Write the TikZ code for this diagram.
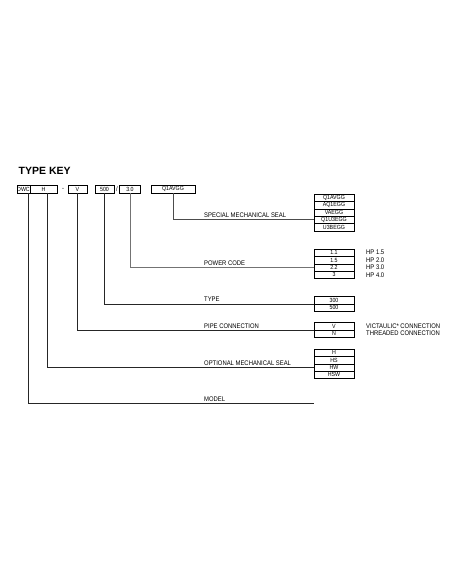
\documentclass[tikz,border=0pt]{standalone}
\usepackage{fontspec}
\setmainfont{Liberation Sans}
\newfontfamily\narrowsf[FakeStretch=0.88]{Liberation Sans}
\begin{document}
\begin{tikzpicture}[x=1pt, y=-1pt,
  key/.style={draw, line width=0.6pt, minimum height=8, inner sep=0, font=\narrowsf\fontsize{6}{6}\selectfont},
  cell/.style={draw, line width=0.6pt, minimum width=40, minimum height=7.4, inner sep=0, font=\narrowsf\fontsize{6}{6}\selectfont},
  lbl/.style={anchor=west, inner sep=0, font=\narrowsf\fontsize{6.7}{7}\selectfont},
  wire/.style={line width=0.9pt, black!85}]
  \useasboundingbox (0,0) rectangle (452,584);

  \node[anchor=west, inner sep=0, font=\bfseries\fontsize{10.5}{12}\selectfont] (title) at (18.5,171) {TYPE KEY};

  % model code boxes
  \node[key, minimum width=13] (dwc) at (23.5,189) {DWC};
  \node[key, minimum width=27] (h) at (43.5,189) {H};
  \node[lbl, anchor=center] (dash) at (63,189) {-};
  \node[key, minimum width=19] (v) at (77.5,189) {V};
  \node[key, minimum width=19] (t500) at (104.5,189) {500};
  \node[lbl, anchor=center] (slash) at (117,189) {/};
  \node[key, minimum width=20.5] (pc) at (130,189) {3.0};
  \node[key, minimum width=44] (q1) at (173,189) {Q1AVGG};

  % option tables
  \foreach \t [count=\i] in {Q1AVGG,AQ1EGG,VAEGG,Q1U3EGG,U3BEGG}
    \node[cell] (seal\i) at (334,{197.7+7.4*(\i-1)}) {\t};
  \foreach \t [count=\i] in {1.1,1.5,2.2,3}
    \node[cell] (pow\i) at (334,{252.7+7.4*(\i-1)}) {\t};
  \foreach \t [count=\i] in {HP 1.5,HP 2.0,HP 3.0,HP 4.0}
    \node[lbl] (hp\i) at (366,{252.7+7.4*(\i-1)}) {\t};
  \foreach \t [count=\i] in {300,500}
    \node[cell] (type\i) at (334,{300.2+7.4*(\i-1)}) {\t};
  \foreach \t [count=\i] in {V,N}
    \node[cell] (pipe\i) at (334,{326.2+7.4*(\i-1)}) {\t};
  \foreach \t [count=\i] in {H,HS,HW,HSW}
    \node[cell] (oseal\i) at (334,{352.7+7.4*(\i-1)}) {\t};
  \node[lbl] (vic) at (366,326.2) {VICTAULIC* CONNECTION};
  \node[lbl] (thr) at (366,333.6) {THREADED CONNECTION};

  % captions
  \node[lbl] (sealtxt) at (204,215) {SPECIAL MECHANICAL SEAL};
  \node[lbl] (powtxt) at (204,263) {POWER CODE};
  \node[lbl] (typetxt) at (204,299) {TYPE};
  \node[lbl] (pipetxt) at (204,326.5) {PIPE CONNECTION};
  \node[lbl] (osealtxt) at (204,363) {OPTIONAL MECHANICAL SEAL};
  \node[lbl] (modeltxt) at (204,399) {MODEL};
  \coordinate (modelend) at (314,403);

  % connectors
  \draw[wire] ([xshift=-2]dwc.south east) |- (modelend);
  \draw[wire] ([xshift=4]h.south) |- (oseal3.west);
  \draw[wire] (v.south) |- (pipe1.south west);
  \draw[wire] (t500.south) |- (type1.south west);
  \draw[wire, black!55] (pc.south) |- (pow3.west);
  \draw[wire, black!70] (q1.south) |- (seal4.west);
\end{tikzpicture}
\end{document}
